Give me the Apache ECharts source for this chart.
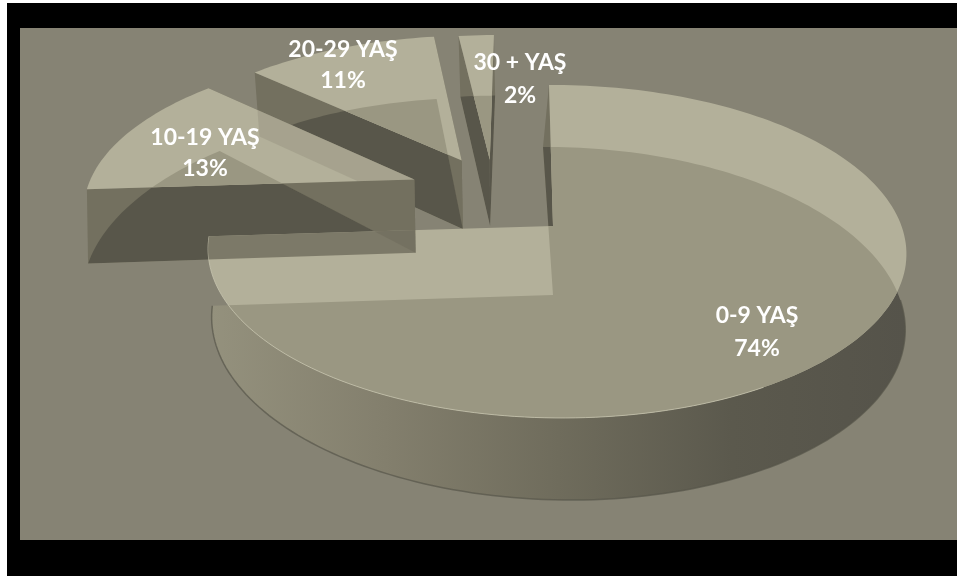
<!DOCTYPE html>
<html>
<head>
<meta charset="utf-8">
<style>html,body{margin:0;padding:0;background:#fff}#chart{width:957px;height:576px}</style>
<script src="https://cdn.jsdelivr.net/npm/echarts@6/dist/echarts.min.js"></script>
</head>
<body>
<div id="chart"></div>
<script>
// Age groups and their shares, in percent
const ageGroups = ['0-9 YAŞ', '10-19 YAŞ', '20-29 YAŞ', '30 + YAŞ'];
const shares = [74, 13, 11, 2];

// Perspective of the disc: one plane for the upper face, planes per wedge for the lower face
const upperFace = { cx: 553, cy: 226, a: 345, b: -162.6, k: 0.153, m: -0.01, s: -4.6 };
const lowerMain = { cx: 553, cy: 295, a: 342, b: -171.9, k: 0.1615, m: -0.01, s: -11.6 };
const lowerPulled = Object.assign({}, lowerMain, { s: -4 });
const lowerSide = Object.assign({}, lowerMain, { s: 8, b: -180 });
const lowerFaces = [lowerMain, lowerSide, lowerPulled, lowerPulled];

// How far each wedge is pulled out, in disc radii
const upperPull = [[0, 0], [-0.418, 0.3], [-0.277, 0.43], [-0.19, 0.435]];
const lowerPull = [[0, 0], [-0.425, 0.245], [-0.277, 0.41], [-0.192, 0.43]];

// Label anchors per wedge: x, first line y, second line y
const labelPos = [[757, 316, 349], [205, 138, 169], [343, 50, 81], [520, 63, 96]];
// Paint the back wedges first so the front ones cover them
const paintOrder = [3, 2, 1, 0];
// Strength with which walls behind a wedge show through its upper face
const seeThrough = [0.86, 0.2, 0.2, 0.2];

const LIGHT = '#b3b09a', MID = '#9a9782', WALL = '#73705f', DARK = '#58564a';
const total = shares.reduce((p, c) => p + c, 0);

function project(face, u, v) {
  const w = 1 + face.k * v + face.m * u;
  return [face.cx + (face.a * u + face.s * v) / w, face.cy + face.b * v / w];
}
function angleRange(i) {
  let before = 0;
  for (let j = 0; j < i; j++) before += shares[j];
  return [before / total * Math.PI * 2, (before + shares[i]) / total * Math.PI * 2];
}
function arcPoints(face, pull, a0, a1) {
  const n = Math.max(4, Math.round((a1 - a0) * 40));
  const pts = [];
  for (let t = 0; t <= n; t++) {
    const a = a0 + (a1 - a0) * t / n;
    pts.push(project(face, pull[0] + Math.sin(a), pull[1] + Math.cos(a)));
  }
  return pts;
}
function wedgePoints(face, pull, i) {
  const r = angleRange(i);
  return [project(face, pull[0], pull[1])].concat(arcPoints(face, pull, r[0], r[1]));
}
function wallPolys(i) {
  const up = upperPull[i], lo = lowerPull[i], face = lowerFaces[i];
  const tip = project(upperFace, up[0], up[1]), tipLow = project(face, lo[0], lo[1]);
  // The large wedge only shows the wall at its starting edge
  const edges = i === 0 ? [angleRange(i)[0]] : angleRange(i);
  return edges.map(a => [
    project(upperFace, up[0] + Math.sin(a), up[1] + Math.cos(a)), tip, tipLow,
    project(face, lo[0] + Math.sin(a), lo[1] + Math.cos(a))
  ]);
}
const poly = (points, style, clip) => {
  const el = { type: 'polygon', shape: { points }, style };
  if (clip) el.clipPath = { type: 'polygon', shape: { points: clip } };
  return el;
};
const line = (points, stroke, width, opacity) => ({
  type: 'polyline', shape: { points },
  style: { fill: null, stroke, lineWidth: width, opacity }
});

function renderWedge(params) {
  const order = params.dataIndex;
  const i = paintOrder[order];
  const top = wedgePoints(upperFace, upperPull[i], i);
  const low = wedgePoints(lowerFaces[i], lowerPull[i], i);
  const kids = [];

  if (i === 0) {
    // The large wedge shows its curved outer wall, shaded from left to right
    const rim = arcPoints(lowerMain, lowerPull[0], 1.6, angleRange(0)[1]);
    const xs = low.map(p => p[0]);
    const fill = new echarts.graphic.LinearGradient(Math.min(...xs), 0, Math.max(...xs), 0, [
      { offset: 0, color: '#94917d' }, { offset: 0.25, color: '#837f6d' },
      { offset: 0.5, color: '#6f6c5c' }, { offset: 0.75, color: '#5b594d' },
      { offset: 1, color: '#55534a' }
    ], true);
    kids.push(poly(low, { fill }));
    kids.push(line(rim, '#57554a', 1.5, 0.7));
  }
  wallPolys(i).forEach(w => {
    kids.push(poly(w, { fill: WALL }));
    kids.push(poly(w, { fill: DARK }, low));
  });
  kids.push(poly(top, { fill: LIGHT }));
  kids.push(poly(low, { fill: MID }, top));
  if (i === 0) {
    kids.push(line(arcPoints(upperFace, upperPull[0], 2.6, angleRange(0)[1]), '#c6c3ae', 1, 0.8));
  }
  // Walls of the wedges painted earlier remain visible through this upper face
  for (let j = 0; j < order; j++) {
    const b = paintOrder[j];
    wallPolys(b).forEach(w => {
      kids.push(poly(w, { fill: WALL, opacity: seeThrough[i] }, top));
    });
  }
  const pos = labelPos[i];
  const textStyle = { fill: '#fff', font: 'bold 23px Lato', align: 'center', verticalAlign: 'middle' };
  kids.push({ type: 'text', style: Object.assign({ text: ageGroups[i], x: pos[0], y: pos[1] }, textStyle) });
  kids.push({ type: 'text', style: Object.assign({ text: shares[i] + '%', x: pos[0], y: pos[2] }, textStyle) });
  return { type: 'group', children: kids };
}

const chart = echarts.init(document.getElementById('chart'), null, { renderer: 'canvas' });
chart.setOption({
  backgroundColor: '#fff',
  animation: false,
  graphic: [{
    type: 'rect', z: -11,
    shape: { x: 7, y: 3, width: 950, height: 573 },
    style: { fill: '#000' }
  }, {
    type: 'rect', z: -10,
    shape: { x: 20, y: 28, width: 937, height: 512 },
    style: { fill: '#868374' }
  }],
  series: [{
    type: 'custom',
    coordinateSystem: 'none',
    clip: false,
    data: paintOrder.map(i => ({ name: ageGroups[i], value: shares[i] })),
    renderItem: renderWedge
  }]
});
</script>
</body>
</html>
